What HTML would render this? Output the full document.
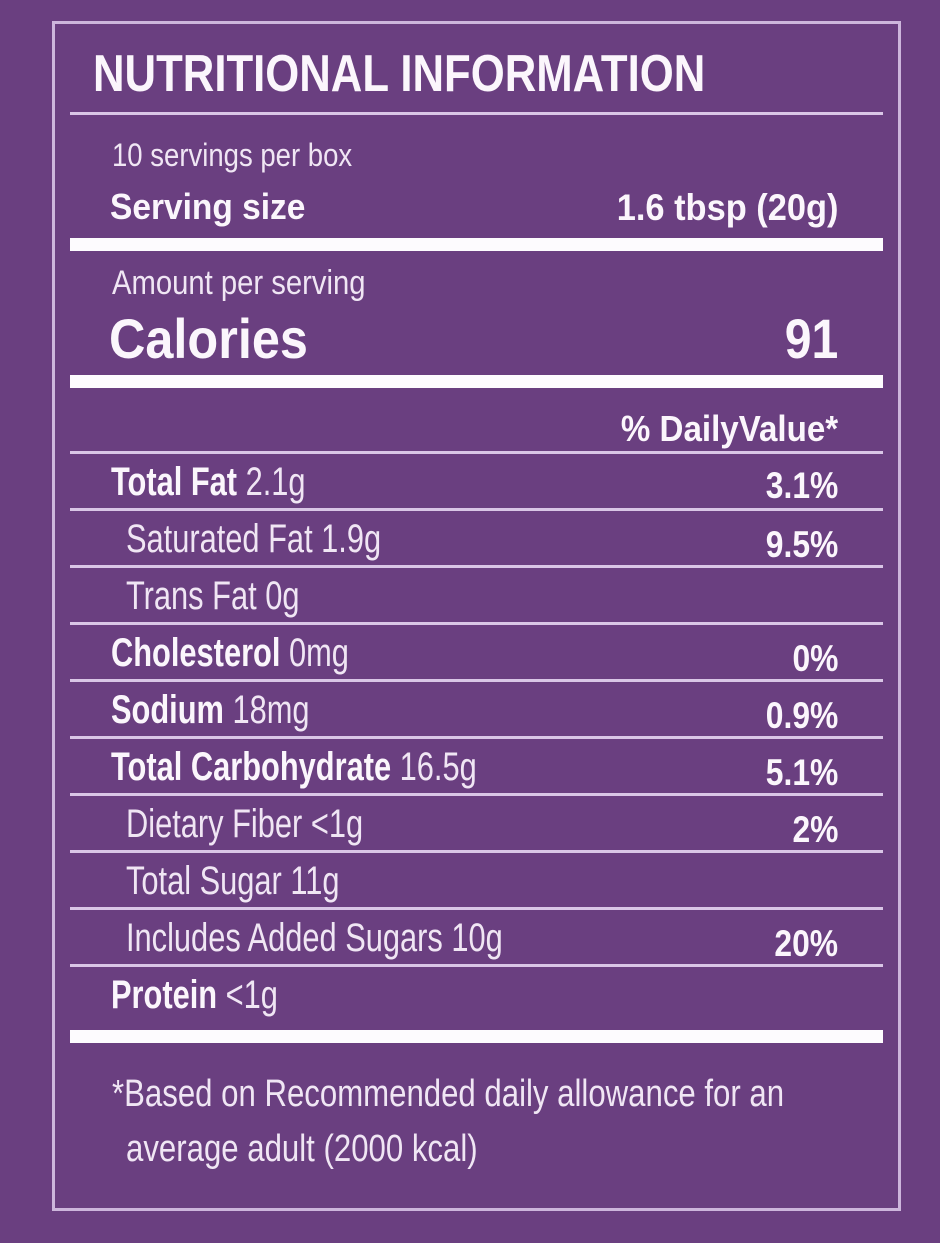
<!DOCTYPE html>
<html><head><meta charset="utf-8">
<style>
body{margin:0;width:940px;height:1243px;background:#6a3f80;overflow:hidden;position:relative;font-family:"Liberation Sans Narrow","Liberation Sans",sans-serif;color:#fbf6fc}
.box{position:absolute;left:52px;top:21px;width:843px;height:1184px;border:3px solid #cdb6dc}
.hl{position:absolute;left:70px;width:813px;height:3px;background:#d9c6e6}
.tk{position:absolute;left:70px;width:813px;height:13px;background:#fdfbfe}
.t{position:absolute;white-space:nowrap;line-height:1;transform-origin:left center;transform:scaleX(.77)}
.r{position:absolute;right:102px;white-space:nowrap;line-height:1;font-weight:bold;transform-origin:right center;transform:scaleX(.86)}
.b{font-weight:bold}
.n{font-weight:normal;color:#f0e6f4}
</style></head><body>
<div class="box"></div>
<div class="t b" style="left:93px;top:48px;font-size:52px;transform:scaleX(.84)">NUTRITIONAL INFORMATION</div>
<div class="hl" style="top:112px"></div>
<div class="t n" style="left:112px;top:139px;font-size:32px;transform:scaleX(.86)">10 servings per box</div>
<div class="t b" style="left:110px;top:189px;font-size:36px;transform:scaleX(.93)">Serving size</div>
<div class="r" style="top:189px;font-size:37px;transform:scaleX(.93)">1.6 tbsp (20g)</div>
<div class="tk" style="top:238px"></div>
<div class="t n" style="left:112px;top:266px;font-size:34px;transform:scaleX(.86)">Amount per serving</div>
<div class="t b" style="left:109px;top:311px;font-size:56px;transform:scaleX(.9)">Calories</div>
<div class="r" style="top:311px;font-size:56px">91</div>
<div class="tk" style="top:375px"></div>
<div class="r" style="top:411px;font-size:36px;transform:scaleX(.92)">% DailyValue*</div>

<div class="hl" style="top:451px"></div>
<div class="t" style="left:111px;top:462px;font-size:40px"><span class="b">Total Fat</span> <span class="n">2.1g</span></div>
<div class="r" style="top:467px;font-size:37px">3.1%</div>
<div class="hl" style="top:508px"></div>
<div class="t n" style="left:126px;top:519px;font-size:40px">Saturated Fat 1.9g</div>
<div class="r" style="top:526px;font-size:37px">9.5%</div>
<div class="hl" style="top:565px"></div>
<div class="t n" style="left:126px;top:576px;font-size:40px">Trans Fat 0g</div>
<div class="hl" style="top:622px"></div>
<div class="t" style="left:111px;top:633px;font-size:40px"><span class="b">Cholesterol</span> <span class="n">0mg</span></div>
<div class="r" style="top:640px;font-size:37px">0%</div>
<div class="hl" style="top:679px"></div>
<div class="t" style="left:111px;top:690px;font-size:40px"><span class="b">Sodium</span> <span class="n">18mg</span></div>
<div class="r" style="top:697px;font-size:37px">0.9%</div>
<div class="hl" style="top:736px"></div>
<div class="t" style="left:111px;top:747px;font-size:40px"><span class="b">Total Carbohydrate</span> <span class="n">16.5g</span></div>
<div class="r" style="top:754px;font-size:37px">5.1%</div>
<div class="hl" style="top:793px"></div>
<div class="t n" style="left:126px;top:804px;font-size:40px">Dietary Fiber &lt;1g</div>
<div class="r" style="top:811px;font-size:37px">2%</div>
<div class="hl" style="top:850px"></div>
<div class="t n" style="left:126px;top:861px;font-size:40px">Total Sugar 11g</div>
<div class="hl" style="top:907px"></div>
<div class="t n" style="left:126px;top:918px;font-size:40px">Includes Added Sugars 10g</div>
<div class="r" style="top:925px;font-size:37px">20%</div>
<div class="hl" style="top:964px"></div>
<div class="t" style="left:111px;top:975px;font-size:40px"><span class="b">Protein</span> <span class="n">&lt;1g</span></div>
<div class="tk" style="top:1030px"></div>
<div class="t n" style="left:112px;top:1075px;font-size:38px;transform:scaleX(.82)">*Based on Recommended daily allowance for an</div>
<div class="t n" style="left:126px;top:1130px;font-size:38px;transform:scaleX(.82)">average adult (2000 kcal)</div>
</body></html>
